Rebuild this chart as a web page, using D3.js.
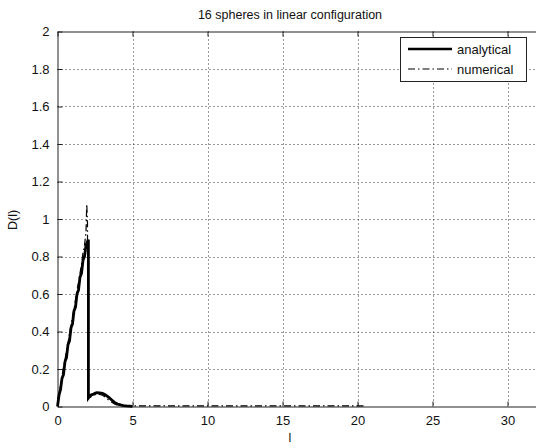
<!DOCTYPE html>
<html><head><meta charset="utf-8">
<script src="https://cdn.jsdelivr.net/npm/d3@7"></script>
<style>body{margin:0;background:#fff}svg{display:block}text{font-family:"Liberation Sans",Arial,sans-serif;fill:#111}</style>
</head><body><div id="c"></div>
<script>
const title = "16 spheres in linear configuration";
const xTicks = [0,5,10,15,20,25,30];
const yTicks = [0,0.2,0.4,0.6,0.8,1,1.2,1.4,1.6,1.8,2];
const yTickLabels = ["0","0.2","0.4","0.6","0.8","1","1.2","1.4","1.6","1.8","2"];
const seriesNames = ["analytical","numerical"];

const lAnalytical = [0,0.1,0.2,0.3,0.4,0.5,0.6,0.7,0.8,0.9,1.0,1.1,1.2,1.3,1.4,1.5,1.6,1.7,1.8,1.9,2.0,
  2.06,2.06,2.2,2.4,2.6,2.8,3.0,3.2,3.4,3.6,3.8,4.0,4.2,4.4,4.6,4.8,5.0];
const dAnalytical = [0.00,0.06,0.09,0.15,0.17,0.24,0.26,0.33,0.35,0.42,0.44,0.51,0.53,0.60,0.62,0.69,0.71,0.78,0.80,0.86,0.88,
  0.89,0.045,0.06,0.066,0.074,0.072,0.07,0.062,0.05,0.036,0.022,0.013,0.009,0.005,0.003,0.002,0.001];

const lNumerical = [0,0.1,0.2,0.3,0.4,0.5,0.6,0.7,0.8,0.9,1.0,1.1,1.2,1.3,1.4,1.5,1.6,1.7,1.8,1.9,1.95,2.0,2.02,
  2.2,2.4,2.6,2.8,3.0,3.2,3.4,3.6,3.8,4.0,4.5,5,6,8,10,12,14,16,18,20,20.6];
const dNumerical = [0.02,0.07,0.11,0.16,0.21,0.25,0.30,0.34,0.39,0.43,0.48,0.52,0.57,0.62,0.66,0.71,0.76,0.82,0.86,0.93,1.08,0.98,0.05,
  0.05,0.06,0.065,0.065,0.06,0.05,0.035,0.024,0.013,0.007,0.004,0.003,0.003,0.003,0.003,0.003,0.003,0.003,0.003,0.003,0.003];

const W = 536, H = 448;
const svg = d3.select("#c").append("svg").attr("width", W).attr("height", H);
const x = d3.scaleLinear().domain([0, 32]).range([57.5, 537.5]);
const y = d3.scaleLinear().domain([0, 2]).range([406.5, 31.5]);
const x0 = x.range()[0], x1 = x.range()[1], y0 = y.range()[0], y1 = y.range()[1];

// grid
const g = svg.append("g");
g.selectAll(".gx").data(xTicks.filter(t => t > 0)).join("line")
  .attr("x1", d => Math.round(x(d)) + 0.5).attr("x2", d => Math.round(x(d)) + 0.5)
  .attr("y1", y1).attr("y2", y0).attr("stroke", "#333").attr("stroke-width", 1).attr("stroke-dasharray", "1,3");
g.selectAll(".gy").data(yTicks.filter(t => t > 0 && t < 2)).join("line")
  .attr("y1", d => Math.round(y(d)) + 0.5).attr("y2", d => Math.round(y(d)) + 0.5)
  .attr("x1", x0).attr("x2", x1).attr("stroke", "#333").attr("stroke-width", 1).attr("stroke-dasharray", "1,3");

// axes via d3
const xAxisB = d3.axisBottom(x).tickValues(xTicks).tickSizeInner(-5).tickSizeOuter(0).tickPadding(9);
const xAxisT = d3.axisTop(x).tickValues(xTicks).tickSizeInner(-5).tickSizeOuter(0).tickFormat("");
const yAxisL = d3.axisLeft(y).tickValues(yTicks).tickSizeInner(-5).tickSizeOuter(0).tickPadding(8)
  .tickFormat((d, i) => yTickLabels[i]);
function style(sel){ sel.selectAll("path,line").attr("stroke", "#222"); sel.selectAll("text").attr("font-size", 13).attr("fill","#111").attr("font-family","Liberation Sans, Arial, sans-serif"); }
svg.append("g").attr("transform", `translate(0,${y0})`).call(xAxisB).call(style);
svg.append("g").attr("transform", `translate(0,${y1})`).call(xAxisT).call(style);
svg.append("g").attr("transform", `translate(${x0},0)`).call(yAxisL).call(style);

// lines
const lineGen = d3.line().x(d => x(d[0])).y(d => y(d[1]));
const numData = lNumerical.map((l, i) => [l, dNumerical[i]]);
const anaData = lAnalytical.map((l, i) => [l, dAnalytical[i]]);
svg.append("path").datum(anaData).attr("d", lineGen).attr("fill", "none")
  .attr("stroke", "#000").attr("stroke-width", 2.8).attr("stroke-linejoin", "miter");
svg.append("path").datum(numData).attr("d", lineGen).attr("fill", "none")
  .attr("stroke", "#000").attr("stroke-width", 1.2).attr("stroke-dasharray", "7,3,1.5,3");

// title & labels
svg.append("text").attr("x", 290).attr("y", 19).attr("text-anchor", "middle").attr("font-size", 12.5).text(title);
svg.append("text").attr("x", 290).attr("y", 442).attr("text-anchor", "middle").attr("font-size", 12.5).text("l");
svg.append("text").attr("transform", "translate(17,220) rotate(-90)").attr("text-anchor", "middle").attr("font-size", 12.5).text("D(l)");

// legend
const lg = svg.append("g");
lg.append("rect").attr("x", 400.5).attr("y", 37.5).attr("width", 126).attr("height", 44)
  .attr("fill", "#fff").attr("stroke", "#222").attr("stroke-width", 1);
const legY = [49, 69];
lg.append("line").attr("x1", 408).attr("x2", 452).attr("y1", legY[0]).attr("y2", legY[0])
  .attr("stroke", "#000").attr("stroke-width", 2.6);
lg.append("line").attr("x1", 408).attr("x2", 452).attr("y1", legY[1]).attr("y2", legY[1])
  .attr("stroke", "#000").attr("stroke-width", 1.2).attr("stroke-dasharray", "7,3,1.5,3");
seriesNames.forEach((n, i) => lg.append("text").attr("x", 457).attr("y", legY[i] + 4.5).attr("font-size", 13).text(n));
</script></body></html>
